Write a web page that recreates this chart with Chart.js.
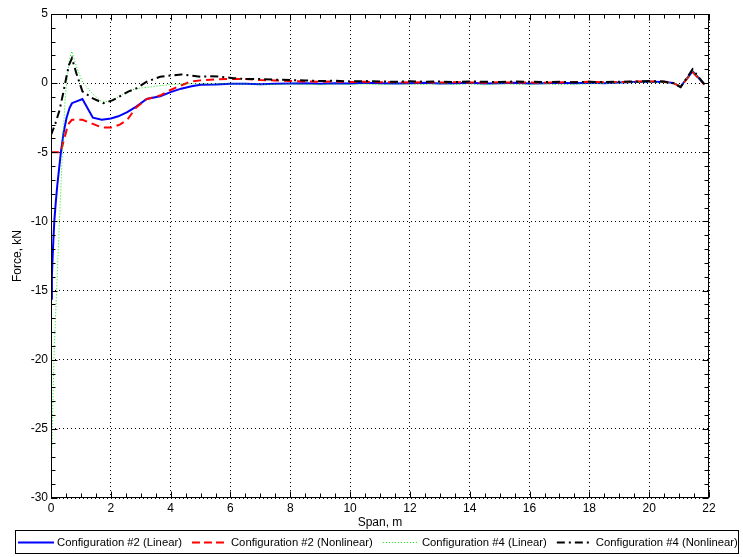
<!DOCTYPE html>
<html>
<head>
<meta charset="utf-8">
<script src="https://cdn.jsdelivr.net/npm/chart.js@4.4.1/dist/chart.umd.min.js"></script>
<style>
  html, body { margin: 0; padding: 0; background: #ffffff; }
  #c { display: block; }
</style>
</head>
<body>
<canvas id="c" width="743" height="557"></canvas>
<script>
// Span positions (m) along the beam, region near the support
const headSpanCfg2Lin = [0, 0.03, 0.07, 0.11, 0.16, 0.21, 0.27, 0.33, 0.42, 0.52, 0.62, 0.7, 1.05, 1.4, 1.7, 2.0, 2.25, 2.55, 2.85, 3.2, 3.65, 4.0, 4.35, 4.7, 5.0, 5.5, 6.0];
const headForceCfg2Lin = [-15.6, -13.9, -11.8, -10.0, -8.6, -7.4, -6.2, -5.0, -3.6, -2.5, -1.8, -1.45, -1.15, -2.5, -2.65, -2.55, -2.4, -2.1, -1.7, -1.15, -0.95, -0.65, -0.4, -0.22, -0.12, -0.1, -0.05];

const headSpanCfg2Non = [0, 0.15, 0.33, 0.42, 0.52, 0.6, 0.7, 1.05, 1.4, 1.7, 2.05, 2.3, 2.55, 2.85, 3.2, 3.65, 3.95, 4.25, 4.65, 5.0, 5.45, 6.0];
const headForceCfg2Non = [-5, -5, -5, -4.2, -3.4, -2.9, -2.65, -2.65, -2.95, -3.2, -3.2, -3.0, -2.65, -1.75, -1.15, -0.9, -0.55, -0.25, 0.1, 0.2, 0.27, 0.3];

const headSpanCfg4Lin = [0, 0.02, 0.04, 0.06, 0.11, 0.17, 0.22, 0.28, 0.34, 0.4, 0.47, 0.55, 0.62, 0.7, 0.85, 1.05, 1.4, 1.7, 2.0, 2.25, 2.55, 2.85, 3.2, 3.6, 4.0, 4.5, 5.0, 5.5, 6.0];
const headForceCfg4Lin = [-27.7, -27.0, -25.5, -23.5, -19.0, -16.0, -13.2, -10.1, -7.1, -4.0, -1.3, 0.6, 1.8, 2.3, 1.2, 0.1, -0.8, -1.35, -1.3, -1.0, -0.6, -0.4, -0.3, -0.2, -0.1, -0.05, -0.05, -0.05, -0.05];

const headSpanCfg4Non = [0, 0.15, 0.28, 0.4, 0.52, 0.6, 0.7, 0.85, 1.05, 1.4, 1.75, 2.05, 2.3, 2.6, 2.87, 3.2, 3.65, 4.0, 4.35, 4.7, 5.0, 5.3, 5.6, 6.1];
const headForceCfg4Non = [-3.75, -2.9, -2.0, -0.8, 0.5, 1.3, 1.8, 0.7, -0.6, -1.1, -1.45, -1.25, -0.95, -0.6, -0.36, 0.1, 0.46, 0.55, 0.63, 0.55, 0.46, 0.5, 0.48, 0.36];

// Remaining span, shared by all four configurations
const tailSpan = [6.5, 7, 7.5, 8, 8.5, 9, 9.5, 10, 10.5, 11, 11.5, 12, 12.5, 13, 13.5, 14, 14.5, 15, 15.5, 16, 16.5, 17, 17.5, 18, 18.5, 19, 19.5, 20, 20.5, 20.8, 21.05, 21.45, 21.85];
const tailForceCfg2Lin = [-0.05, -0.08, -0.05, -0.03, 0.0, -0.04, 0.0, -0.02, 0.02, 0.0, -0.03, 0.0, 0.02, -0.02, 0.0, 0.02, -0.02, 0.0, 0.02, -0.02, 0.0, 0.03, 0.0, 0.02, 0.0, 0.05, 0.08, 0.1, 0.08, 0.02, -0.25, 0.85, -0.1];
const tailForceCfg2Non = [0.3, 0.22, 0.2, 0.15, 0.12, 0.1, 0.12, 0.08, 0.1, 0.06, 0.08, 0.05, 0.07, 0.04, 0.06, 0.05, 0.03, 0.06, 0.04, 0.05, 0.03, 0.05, 0.08, 0.1, 0.06, 0.08, 0.12, 0.12, 0.1, 0.0, -0.25, 0.8, -0.1];
const tailForceCfg4Lin = [-0.05, -0.08, -0.1, -0.05, -0.08, -0.12, -0.05, -0.1, -0.06, -0.12, -0.05, -0.08, -0.1, -0.04, -0.1, -0.06, -0.12, -0.05, -0.08, -0.1, -0.04, -0.12, -0.08, -0.05, -0.02, 0.02, 0.05, 0.06, 0.04, 0.0, -0.2, 0.85, -0.1];
const tailForceCfg4Non = [0.3, 0.3, 0.25, 0.22, 0.2, 0.15, 0.18, 0.12, 0.15, 0.12, 0.1, 0.14, 0.1, 0.12, 0.08, 0.12, 0.1, 0.08, 0.12, 0.1, 0.08, 0.1, 0.06, 0.1, 0.08, 0.1, 0.12, 0.15, 0.12, 0.0, -0.3, 1.0, -0.1];

const seriesLabels = ['Configuration #2 (Linear)', 'Configuration #2 (Nonlinear)', 'Configuration #4 (Linear)', 'Configuration #4 (Nonlinear)'];

const xTickValues = [0, 2, 4, 6, 8, 10, 12, 14, 16, 18, 20, 22];
const yTickValues = [5, 0, -5, -10, -15, -20, -25, -30];

function toPoints(xs, ys) {
  return xs.map((x, i) => ({ x: x, y: ys[i] }));
}

const FONT = '"Liberation Sans", Arial, Helvetica, sans-serif';
Chart.defaults.font.family = FONT;
Chart.defaults.color = '#000';

// Box around the plot with inward major and minor ticks on all four sides
const frameTicks = {
  id: 'frameTicks',
  afterDatasetsDraw(chart) {
    const { ctx, chartArea: a, scales } = chart;
    const L = Math.round(a.left) + 0.5, R = Math.round(a.right) - 0.5;
    const T = Math.round(a.top) + 0.5, B = Math.round(a.bottom) - 0.5;
    ctx.save();
    ctx.strokeStyle = '#000';
    ctx.lineWidth = 1;
    ctx.setLineDash([]);
    ctx.beginPath();
    // x ticks every 0.5 m, longer at the labelled ones
    for (let v = 0; v <= 22.001; v += 0.5) {
      const px = Math.round(scales.x.getPixelForValue(v)) + 0.5;
      const len = (Math.abs(v / 2 - Math.round(v / 2)) < 1e-6) ? 6 : 4;
      ctx.moveTo(px, B); ctx.lineTo(px, B - len);
      ctx.moveTo(px, T); ctx.lineTo(px, T + len);
    }
    // y ticks every 1 kN, longer at the labelled ones
    for (let v = -30; v <= 5.001; v += 1) {
      const py = Math.round(scales.y.getPixelForValue(v)) + 0.5;
      const len = (v % 5 === 0) ? 6 : 4;
      ctx.moveTo(L, py); ctx.lineTo(L + len, py);
      ctx.moveTo(R, py); ctx.lineTo(R - len, py);
    }
    ctx.stroke();
    ctx.strokeRect(L, T, R - L, B - T);
    ctx.restore();
  }
};

// Boxed single-row legend under the axes
const boxLegend = {
  id: 'boxLegend',
  afterDraw(chart) {
    const ctx = chart.ctx;
    ctx.save();
    ctx.font = '11.3px ' + FONT;
    ctx.strokeStyle = '#000';
    ctx.lineWidth = 1;
    ctx.setLineDash([]);
    ctx.strokeRect(15.5, 530.5, 723, 23);
    const cy = 542.5;
    let x = 18;
    chart.data.datasets.forEach(ds => {
      ctx.save();
      ctx.strokeStyle = ds.borderColor;
      ctx.lineWidth = ds.borderWidth;
      ctx.setLineDash(ds.legendDash || ds.borderDash || []);
      ctx.beginPath();
      ctx.moveTo(x, cy);
      ctx.lineTo(x + 36, cy);
      ctx.stroke();
      ctx.restore();
      ctx.fillStyle = '#000';
      ctx.textBaseline = 'middle';
      ctx.textAlign = 'left';
      ctx.fillText(ds.label, x + 39, cy + 0.5);
      x += 39 + ctx.measureText(ds.label).width + 10;
    });
    ctx.restore();
  }
};

new Chart(document.getElementById('c'), {
  type: 'line',
  data: {
    datasets: [
      {
        label: seriesLabels[0],
        data: toPoints(headSpanCfg2Lin.concat(tailSpan), headForceCfg2Lin.concat(tailForceCfg2Lin)),
        borderColor: '#0000ff', borderWidth: 2, borderDash: [], order: 3
      },
      {
        label: seriesLabels[1],
        data: toPoints(headSpanCfg2Non.concat(tailSpan), headForceCfg2Non.concat(tailForceCfg2Non)),
        borderColor: '#ff0000', borderWidth: 2, borderDash: [8, 5], legendDash: [8, 4], order: 2
      },
      {
        label: seriesLabels[2],
        data: toPoints(headSpanCfg4Lin.concat(tailSpan), headForceCfg4Lin.concat(tailForceCfg4Lin)),
        borderColor: '#00ee00', borderWidth: 1, borderDash: [1, 2], order: 1
      },
      {
        label: seriesLabels[3],
        data: toPoints(headSpanCfg4Non.concat(tailSpan), headForceCfg4Non.concat(tailForceCfg4Non)),
        borderColor: '#000000', borderWidth: 2, borderDash: [8, 4, 2, 4], order: 0
      }
    ]
  },
  options: {
    responsive: false,
    animation: false,
    devicePixelRatio: 1,
    layout: { padding: { left: 0, right: 34, top: 14, bottom: 27 } },
    elements: {
      point: { radius: 0, hoverRadius: 0 },
      line: { tension: 0, fill: false, borderCapStyle: 'butt', borderJoinStyle: 'miter' }
    },
    plugins: {
      legend: { display: false },
      tooltip: { enabled: false }
    },
    events: [],
    scales: {
      x: {
        type: 'linear',
        min: 0, max: 22,
        afterFit(scale) { scale.height = 32; },
        afterBuildTicks(scale) { scale.ticks = xTickValues.map(v => ({ value: v })); },
        ticks: { padding: 3, font: { size: 12 }, color: '#000', maxRotation: 0, autoSkip: false },
        grid: { color: '#000', lineWidth: 1, drawTicks: false },
        border: { display: false, dash: [1, 3] },
        title: { display: true, text: 'Span, m', font: { size: 12 }, color: '#000', padding: { top: 0, bottom: 0 } }
      },
      y: {
        type: 'linear',
        min: -30, max: 5,
        afterFit(scale) { scale.width = 51; },
        afterBuildTicks(scale) { scale.ticks = yTickValues.map(v => ({ value: v })); },
        ticks: { padding: 3, font: { size: 12 }, color: '#000', autoSkip: false },
        grid: { color: '#000', lineWidth: 1, drawTicks: false },
        border: { display: false, dash: [1, 3] },
        title: { display: true, text: 'Force, kN', font: { size: 12 }, color: '#000', padding: { top: 10, bottom: 0 } }
      }
    }
  },
  plugins: [frameTicks, boxLegend]
});
</script>
</body>
</html>
